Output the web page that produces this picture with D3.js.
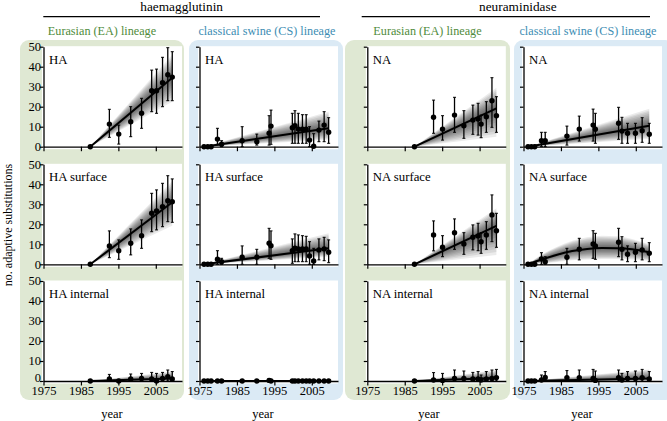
<!DOCTYPE html>
<html>
<head>
<meta charset="utf-8">
<script src="https://cdn.jsdelivr.net/npm/d3@7"></script>
<style>
  body { margin: 0; background: #fff; }
  svg, svg text { font-family: 'Liberation Serif', 'Times New Roman', Times, 'DejaVu Serif', serif !important; }
</style>
</head>
<body>
<div id="chart"></div>
<script>
// sampling years per lineage / segment
var eaYearsHA = [1987.5, 1992.6, 1995.1, 1998.3, 2001.2, 2003.9, 2005.2, 2006.8, 2008.2, 2009.4];
var csYearsHA = [1976.2, 1977.2, 1978.1, 1979.8, 1980.9, 1986.4, 1990.3, 1993.6, 1994.1, 1999.8, 2000.5, 2001.4, 2002.5, 2003.5, 2004.4, 2005.5, 2006.9, 2008.3, 2009.5];
var eaYearsNA = [1987.6, 1992.7, 1995.1, 1998.3, 2000.8, 2003.2, 2004.6, 2005.4, 2006.8, 2008.3, 2009.5];
var csYearsNA = [1976.2, 1977.1, 1978.0, 1979.8, 1980.8, 1986.6, 1989.9, 1993.6, 1994.2, 2000.4, 2001.3, 2002.8, 2004.9, 2006.7, 2008.6];

var yTicks = [0, 10, 20, 30, 40, 50];
var xTicks = [1975, 1985, 1995, 2005];

// HA, Eurasian
var haEAmean = [0, 11.3, 6.3, 12.5, 16.7, 28, 28, 32, 36, 34.8];
var haEAlo   = [0, 4.7, 1.3, 5, 9.2, 17.5, 16.7, 20, 23, 23];
var haEAhi   = [0, 18.7, 10.8, 20, 24.2, 38.3, 38.8, 44.7, 49.5, 47.5];
var haEAfit  = {years: [1987.5, 2009.4], mean: [0, 34.5], lo: [0, 22.5], hi: [0, 46]};

// HA, classical swine
var haCSmean = [0, 0, 0, 3.8, 1.2, 3, 2.5, 6.7, 10.3, 9.5, 10.5, 8.8, 8.8, 8.8, 3.3, 0.2, 8.3, 10.8, 7.2];
var haCSlo   = [0, 0, 0, 0.8, 0, 0, 0.8, 0.8, 1.2, 1.7, 1.7, 1.7, 1.7, 1.7, 0, 0, 2.5, 2.5, 1.7];
var haCShi   = [0, 0, 0, 9.2, 3, 10, 6.3, 15.5, 18.3, 16.7, 18, 16.7, 16, 16, 10, 6.5, 12.8, 17.5, 14.5];
var haCSfit  = {years: [1976.2, 2009.5], mean: [0, 9.2], lo: [0, 3.5], hi: [0, 17.5]};

// NA, Eurasian
var naEAmean = [0, 14.7, 8.8, 15.8, 10.5, 13.3, 13.8, 11.3, 15, 23, 15.5];
var naEAlo   = [0, 6.7, 3.3, 7.2, 4.2, 6.2, 5.8, 4.5, 7.2, 9.7, 7.2];
var naEAhi   = [0, 23.3, 15.5, 24.7, 18, 20.8, 21.7, 15.8, 22.5, 34.5, 25];
var naEAfit  = {years: [1987.6, 2009.5], mean: [0, 19.2], lo: [0, 5], hi: [0, 29.5]};

// NA, classical swine
var naCSmean = [0, 0, 0, 3, 3, 5.3, 8.8, 10.8, 8.7, 11.7, 7.8, 6.7, 6.7, 8, 6.2];
var naCSlo   = [0, 0, 0, 0, 0, 0.8, 2.8, 2.8, 1.7, 3.7, 1.7, 1.7, 1.7, 2.2, 1.7];
var naCShi   = [0, 0, 0, 7.2, 7.2, 10.3, 15.3, 18.8, 16.7, 19.7, 14.7, 11.7, 11.7, 14.5, 11.7];
var naCSfit  = {years: [1976.2, 2008.6], mean: [0, 10.5], lo: [0, 4], hi: [0, 19]};

// HA surface
var hsEAmean = [0, 9.2, 6.8, 10.5, 14.3, 25.5, 26.7, 28.8, 31.8, 31.3];
var hsEAlo   = [0, 3.3, 2.5, 4.7, 8, 16.3, 17.2, 18.8, 21.3, 21];
var hsEAhi   = [0, 16.7, 12.2, 17.7, 22.2, 35.5, 37.2, 40.5, 44.3, 42.7];
var hsEAfit  = {years: [1987.5, 2009.4], mean: [0, 31], lo: [0, 19.3], hi: [0, 41.7]};

var hsCSmean = [0, 0, 0, 2.5, 1.3, 3.5, 3.5, 10.5, 9.3, 6.8, 8, 7.7, 7.7, 7.7, 4.2, 1.7, 7.2, 7.7, 6];
var hsCSlo   = [0, 0, 0, 0, 0, 0, 0, 3, 2.5, 0.5, 1.3, 1.3, 1.3, 1.3, 0, 0, 2.2, 1.8, 0.8];
var hsCShi   = [0, 0, 0, 6.8, 3, 9.2, 7.5, 18, 16.7, 12.7, 15.2, 14.7, 14.3, 14, 11.3, 8, 12.7, 13.5, 12.2];
var hsCSfit  = {years: [1976.2, 2009.5], mean: [0, 8], lo: [0, 3.8], hi: [0, 15.5]};

// NA surface
var nsEAmean = [0, 14.7, 8.5, 15.8, 10.2, 13.5, 14.2, 11.3, 14.7, 24.7, 16.8];
var nsEAlo   = [0, 6.7, 3.8, 7.5, 5, 7.2, 6.8, 5.5, 7.5, 11.3, 8.5];
var nsEAhi   = [0, 21.7, 14.3, 22.7, 15.8, 19.7, 20.5, 15.8, 21.3, 34.7, 25.5];
var nsEAfit  = {years: [1987.6, 2009.5], mean: [0, 19.2], lo: [0, 4.7], hi: [0, 28]};

var nsCSmean = [0, 0, 0, 2.7, 1.3, 3.5, 7.5, 10.2, 9.2, 11, 7.5, 5, 6, 7.2, 5.5];
var nsCSlo   = [0, 0, 0, 0, 0, 0, 2.2, 3, 2.5, 3.8, 2.2, 1.3, 1.3, 2.2, 1.3];
var nsCShi   = [0, 0, 0, 5.8, 3.8, 8, 13, 16.8, 15.5, 18, 13.8, 9.2, 10.5, 13, 10.8];
var nsCSfit  = {years: [1976.2, 1980, 1984, 1988, 1992, 1996, 2000, 2004, 2008.6],
                mean:  [0, 2.5, 4.8, 6.6, 7.7, 8.1, 8.0, 7.5, 6],
                lo:    [0, 0.5, 1.2, 2, 2.4, 2.6, 2.6, 2.4, 1.8],
                hi:    [0, 5, 8.8, 11.8, 13.5, 14.3, 14, 12.7, 10]};

// HA internal
var hiEAmean = [0, 1, 0, 1, 1.3, 1, 0, 1.3, 2.2, 1];
var hiEAlo   = [0, 0, 0, 0, 0, 0, 0, 0, 0, 0];
var hiEAhi   = [0, 3.3, 0, 3.5, 3.8, 4.3, 3.8, 4.3, 5.5, 4.7];
var hiEAfit  = {years: [1987.5, 2009.4], mean: [0, 1.2], lo: [0, 0], hi: [0, 4.7]};

var hiCSmean = [0, 0, 0, 0, 0, 0, 0, 0.3, 0, 0, 0, 0, 0, 0, 0, 0, 0, 0, 0];
var hiCSlo   = [0, 0, 0, 0, 0, 0, 0, 0, 0, 0, 0, 0, 0, 0, 0, 0, 0, 0, 0];
var hiCShi   = [0, 0, 0, 0, 0, 0, 0, 1.2, 0.8, 0, 0, 0, 0, 0, 0, 0, 0, 0, 0];
var hiCSfit  = {years: [1976.2, 2009.5], mean: [0, 0], lo: [0, 0], hi: [0, 0.4]};

// NA internal
var niEAmean = [0, 0.5, 0.3, 1.3, 1.3, 1, 1, 0.5, 1, 1.3, 1.7];
var niEAlo   = [0, 0, 0, 0, 0, 0, 0, 0, 0, 0, 0];
var niEAhi   = [0, 4.2, 3.8, 5.5, 5, 4.3, 4.7, 3, 4.7, 5.5, 5.8];
var niEAfit  = {years: [1987.6, 2009.5], mean: [0, 1.5], lo: [0, 0], hi: [0, 5.5]};

var niCSmean = [0, 0, 0, 0.5, 1.8, 1.7, 1.7, 1.3, 0.3, 1.7, 0.5, 1.3, 1.3, 1.7, 1];
var niCSlo   = [0, 0, 0, 0, 0, 0, 0, 0, 0, 0, 0, 0, 0, 0, 0];
var niCShi   = [0, 0, 0, 3, 4.7, 5.2, 5.5, 5.8, 5, 5.5, 3.8, 4.7, 5, 5.8, 4.7];
var niCSfit  = {years: [1976.2, 2008.6], mean: [0, 1.3], lo: [0, 0], hi: [0, 5.8]};

var panels = [
  {row: 0, col: 0, label: 'HA', years: eaYearsHA, mean: haEAmean, lo: haEAlo, hi: haEAhi, fit: haEAfit},
  {row: 0, col: 1, label: 'HA', years: csYearsHA, mean: haCSmean, lo: haCSlo, hi: haCShi, fit: haCSfit},
  {row: 0, col: 2, label: 'NA', years: eaYearsNA, mean: naEAmean, lo: naEAlo, hi: naEAhi, fit: naEAfit},
  {row: 0, col: 3, label: 'NA', years: csYearsNA, mean: naCSmean, lo: naCSlo, hi: naCShi, fit: naCSfit},
  {row: 1, col: 0, label: 'HA surface', years: eaYearsHA, mean: hsEAmean, lo: hsEAlo, hi: hsEAhi, fit: hsEAfit},
  {row: 1, col: 1, label: 'HA surface', years: csYearsHA, mean: hsCSmean, lo: hsCSlo, hi: hsCShi, fit: hsCSfit},
  {row: 1, col: 2, label: 'NA surface', years: eaYearsNA, mean: nsEAmean, lo: nsEAlo, hi: nsEAhi, fit: nsEAfit},
  {row: 1, col: 3, label: 'NA surface', years: csYearsNA, mean: nsCSmean, lo: nsCSlo, hi: nsCShi, fit: nsCSfit},
  {row: 2, col: 0, label: 'HA internal', years: eaYearsHA, mean: hiEAmean, lo: hiEAlo, hi: hiEAhi, fit: hiEAfit},
  {row: 2, col: 1, label: 'HA internal', years: csYearsHA, mean: hiCSmean, lo: hiCSlo, hi: hiCShi, fit: hiCSfit},
  {row: 2, col: 2, label: 'NA internal', years: eaYearsNA, mean: niEAmean, lo: niEAlo, hi: niEAhi, fit: niEAfit},
  {row: 2, col: 3, label: 'NA internal', years: csYearsNA, mean: niCSmean, lo: niCSlo, hi: niCShi, fit: niCSfit}
];

var lineageTitles = ['Eurasian (EA) lineage', 'classical swine (CS) lineage',
                     'Eurasian (EA) lineage', 'classical swine (CS) lineage'];
var segmentTitles = ['haemagglutinin', 'neuraminidase'];

// layout
var width = 667, height = 421;
var serif = "'Liberation Serif', 'Times New Roman', Times, 'DejaVu Serif', serif";
var colX = [43.5, 199.5, 367.3, 523.5];
var rowTop = [46.7, 164.3, 281];
var plotH = 100;
var boxes = [[20, 184], [189, 343], [345, 510], [514, 674]];
var boxFill = ['#dfe8d3', '#dbeaf5', '#dfe8d3', '#dbeaf5'];
var titleFill = ['#4f8b3b', '#3d8db3', '#4f8b3b', '#3d8db3'];
var yearX = [112, 263, 429, 582];

var x = d3.scaleLinear().domain([1975, 2012]).range([0, 138.5]);
var y = d3.scaleLinear().domain([0, 50]).range([plotH, 0]);

var svg = d3.select('#chart').append('svg')
  .attr('width', width)
  .attr('height', height)
  .attr('font-family', serif);

// coloured lineage boxes
svg.selectAll('rect.box').data(boxes)
  .enter().append('rect')
  .attr('class', 'box')
  .attr('x', function(d) { return d[0]; })
  .attr('y', 40)
  .attr('width', function(d) { return d[1] - d[0]; })
  .attr('height', 360)
  .attr('rx', 9)
  .style('fill', function(d, i) { return boxFill[i]; });

// segment titles with rule
var segSpan = [[43.3, 320], [361.7, 650]];
segmentTitles.forEach(function(t, i) {
  var s = segSpan[i];
  svg.append('text')
    .attr('x', (s[0] + s[1]) / 2 + (i ? 12 : 0))
    .attr('y', 10.5)
    .attr('text-anchor', 'middle')
    .style('font-family', serif)
    .style('font-size', '13.3px')
    .text(t);
  svg.append('line')
    .attr('x1', s[0]).attr('x2', s[1])
    .attr('y1', 16.7).attr('y2', 16.7)
    .style('stroke', '#000')
    .style('stroke-width', 1.3);
});

svg.selectAll('text.lin').data(lineageTitles)
  .enter().append('text')
  .attr('class', 'lin')
  .attr('x', function(d, i) { return (boxes[i][0] + boxes[i][1]) / 2 + (i == 3 ? -6 : 0) + (i == 1 ? 1 : 0); })
  .attr('y', 35)
  .attr('text-anchor', 'middle')
  .style('font-family', serif)
  .style('font-size', '12.2px')
  .style('fill', function(d, i) { return titleFill[i]; })
  .text(function(d) { return d; });

svg.append('text')
  .attr('transform', 'translate(12,225) rotate(-90)')
  .attr('text-anchor', 'middle')
  .style('font-family', serif)
  .style('font-size', '12px')
  .text('no. adaptive substitutions');

yearX.forEach(function(cx) {
  svg.append('text')
    .attr('x', cx).attr('y', 417.5)
    .attr('text-anchor', 'middle')
    .style('font-family', serif)
    .style('font-size', '12.5px')
    .text('year');
});

function interp(arr, f) {
  // arr: fit object, f: band fraction
  return arr.years.map(function(yr, i) {
    return {
      year: yr,
      lo: arr.mean[i] - f * (arr.mean[i] - arr.lo[i]),
      hi: arr.mean[i] + f * (arr.hi[i] - arr.mean[i])
    };
  });
}

var curveFor = function(p) { return p.fit.years.length > 2 ? d3.curveMonotoneX : d3.curveLinear; };

panels.forEach(function(p) {
  var g = svg.append('g')
    .attr('transform', 'translate(' + colX[p.col] + ',' + rowTop[p.row] + ')');

  g.append('rect')
    .attr('x', -1.5).attr('y', -0.5)
    .attr('width', x(2012) + 1.5)
    .attr('height', plotH + 3)
    .style('fill', '#fff');

  // posterior band, layered so that it darkens towards the fitted line
  var area = d3.area()
    .curve(curveFor(p))
    .x(function(d) { return x(d.year); })
    .y0(function(d) { return y(d.lo); })
    .y1(function(d) { return y(d.hi); });
  var nLayers = 10;
  for (var k = nLayers; k >= 1; k--) {
    g.append('path')
      .datum(interp(p.fit, k / nLayers))
      .attr('d', area)
      .style('fill', '#000')
      .style('fill-opacity', 0.08);
  }

  // error bars
  var idx = d3.range(p.years.length);
  var bars = g.selectAll('g.err').data(idx.filter(function(i) { return p.hi[i] - p.lo[i] > 0.05; }))
    .enter().append('g');
  bars.append('line')
    .attr('x1', function(i) { return x(p.years[i]); })
    .attr('x2', function(i) { return x(p.years[i]); })
    .attr('y1', function(i) { return y(p.lo[i]); })
    .attr('y2', function(i) { return y(p.hi[i]); })
    .style('stroke', '#000').style('stroke-width', 1.3);
  [p.lo, p.hi].forEach(function(arr) {
    bars.append('line')
      .attr('x1', function(i) { return x(p.years[i]) - 1.5; })
      .attr('x2', function(i) { return x(p.years[i]) + 1.5; })
      .attr('y1', function(i) { return y(arr[i]); })
      .attr('y2', function(i) { return y(arr[i]); })
      .style('stroke', '#000').style('stroke-width', 1);
  });

  // fitted mean
  var line = d3.line()
    .curve(curveFor(p))
    .x(function(d, i) { return x(p.fit.years[i]); })
    .y(function(d) { return y(d); });
  g.append('path')
    .datum(p.fit.mean)
    .attr('d', line)
    .style('fill', 'none')
    .style('stroke', '#000')
    .style('stroke-width', 2);

  g.selectAll('circle').data(idx)
    .enter().append('circle')
    .attr('cx', function(i) { return x(p.years[i]); })
    .attr('cy', function(i) { return y(p.mean[i]); })
    .attr('r', 2.7)
    .style('fill', '#000');

  // axes
  var yAxis = d3.axisLeft(y).tickValues(yTicks).tickSize(3.5).tickSizeOuter(0).tickPadding(0)
    .tickFormat(p.col == 0 ? d3.format('d') : '');
  var yg = g.append('g').call(yAxis).attr('font-family', serif);
  var xAxis = d3.axisBottom(x).tickValues(xTicks).tickSize(4.5).tickSizeOuter(0).tickPadding(1)
    .tickFormat(p.row == 2 ? d3.format('d') : '');
  var xg = g.append('g').attr('transform', 'translate(0,' + plotH + ')').call(xAxis).attr('font-family', serif);
  [yg, xg].forEach(function(a) {
    a.selectAll('path').style('stroke', '#000').style('stroke-width', 1.3);
    a.selectAll('line').style('stroke', '#000').style('stroke-width', 1.2);
    a.selectAll('text')
      .style('font-family', serif)
      .style('font-size', '12.5px')
      .style('fill', '#000');
  });
  yg.selectAll('text').attr('x', -2.5).attr('dy', '0.3em');
  // keep the bottom "0" clear of the year labels
  if (p.row == 2) yg.selectAll('text').filter(function(d) { return d === 0; }).attr('dy', '0.02em');

  g.append('text')
    .attr('x', 5.5).attr('y', 17)
    .style('font-family', serif)
    .style('font-size', '12.8px')
    .text(p.label);
});
</script>
</body>
</html>
